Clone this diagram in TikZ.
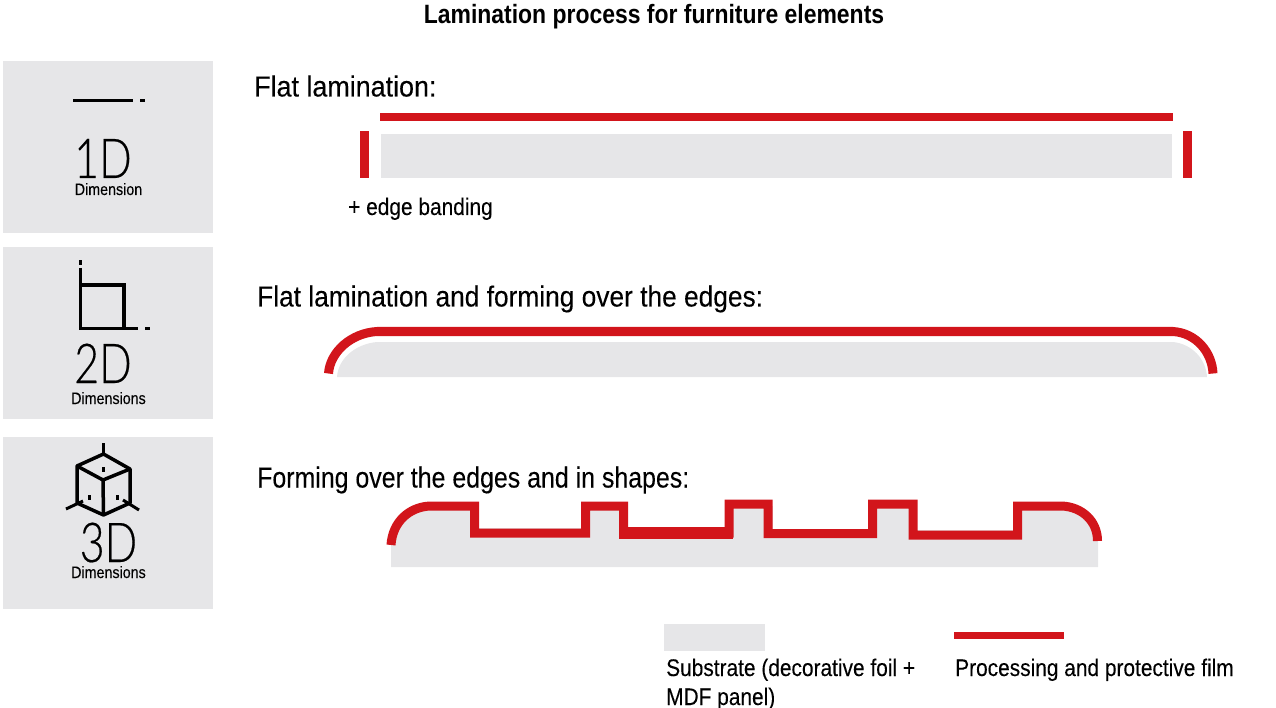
\documentclass[tikz,border=0pt]{standalone}
\usepackage{fontspec}
\setmainfont[FakeStretch=0.84]{Liberation Sans}
\newfontfamily\headfont[FakeStretch=0.907,FakeBold=0.12]{Liberation Sans}
\newfontfamily\headafont[FakeStretch=0.927,FakeBold=0.12]{Liberation Sans}
\newfontfamily\headcfont[FakeStretch=0.859,FakeBold=0.12]{Liberation Sans}
\newfontfamily\smallfont[FakeStretch=0.87,FakeBold=0.12]{Liberation Sans}
\newfontfamily\labelfont[FakeStretch=0.865,FakeBold=0.1]{Liberation Sans}
\newfontfamily\titlefont[FakeStretch=0.866]{Liberation Sans}
\newfontfamily\thinfont[FakeStretch=0.78,FakeBold=0.35]{Lato Light}
\definecolor{panelgray}{HTML}{E6E6E8}
\definecolor{filmred}{HTML}{D2151B}
\definecolor{inkblack}{HTML}{000000}
\tikzset{
  panel/.style={fill=panelgray,draw=none},
  substrate/.style={fill=panelgray,draw=none},
  filmbar/.style={fill=filmred,draw=none},
  filmline/.style={draw=filmred,line width=9pt,miter limit=10,line join=miter},
  icon/.style={draw=inkblack,line width=3pt},
  icondot/.style={fill=inkblack,draw=none},
  heading/.style={anchor=base west,inner sep=0pt,font=\headfont\fontsize{29}{29}\selectfont},
  small/.style={anchor=base west,inner sep=0pt,font=\smallfont\fontsize{24}{24}\selectfont},
  bigdim/.style={anchor=base,inner sep=0pt,font=\thinfont\fontsize{55}{55}\selectfont},
  dimlabel/.style={anchor=base,inner sep=0pt,font=\labelfont\fontsize{16.5}{16.5}\selectfont},
}
\begin{document}
\begin{tikzpicture}[x=1pt,y=-1pt]
\useasboundingbox (0,0) rectangle (1276,708);
\node[anchor=base,inner sep=0pt,font=\titlefont\bfseries\fontsize{26.5}{26.5}\selectfont] (title) at (654,24) {Lamination process for furniture elements};
% panels
\fill[panel] (3,61) rectangle (213,233);
\fill[panel] (3,247) rectangle (213,419);
\fill[panel] (3,437) rectangle (213,609);
% 1D icon
\draw[icon] (73,100.5) -- (133,100.5);
\fill[icondot] (140,99) rectangle (145,102);
\node[bigdim] (d1) at (103,178) {1D};
\node[dimlabel] (l1) at (108.5,195) {Dimension};
% 2D icon
\draw[icon] (80,268) -- (80,328.5) -- (138,328.5);
\draw[icon,line width=3.5pt] (80,285) -- (124,285) -- (124,328.5);
\fill[icondot] (78.5,260) rectangle (81.5,265);
\fill[icondot] (145,327) rectangle (150,330);
\node[bigdim] (d2) at (103,383) {2D};
\node[dimlabel] (l2) at (108.5,404) {Dimensions};
% 3D icon
\draw[icon] (103.5,443) -- (103.5,454);
\draw[icon,line width=3.5pt,line join=round] (103.5,454) -- (77,466) -- (77,503) -- (103.5,515) -- (130,503) -- (130,469) -- cycle;
\draw[icon,line width=3.5pt,line join=round] (77,466) -- (103,480) -- (130,469);
\draw[icon,line width=3.5pt] (103,480) -- (103.5,515);
\draw[icon] (66,509) -- (83,501);
\draw[icon] (123,500) -- (139,510);
\fill[icondot] (102,466.5) rectangle (105,471.5);
\fill[icondot] (88,495) rectangle (91,500);
\fill[icondot] (116,495) rectangle (119,500);
\node[bigdim] (d3) at (108.5,562) {3D};
\node[dimlabel] (l3) at (108.5,578) {Dimensions};
% Row 1
\node[heading,font=\headafont\fontsize{29}{29}\selectfont] (h1) at (254,96.5) {Flat lamination:};
\fill[filmbar] (380,113.5) rectangle (1173,121.5);
\fill[substrate] (381,134) rectangle (1172,178);
\fill[filmbar] (360,131) rectangle (369,178);
\fill[filmbar] (1183,131) rectangle (1192,178);
\node[small] (edge) at (348,215) {+ edge banding};
% Row 2
\node[heading] (h2) at (257,306.5) {Flat lamination and forming over the edges:};
\fill[substrate] (337,377) .. controls (338,359) and (355,344) .. (377,342) -- (1173,342) .. controls (1192,344) and (1206,359) .. (1207,377) -- cycle;
\draw[filmline] (328.5,373.5) .. controls (330,352) and (351,333) .. (377,331.5) -- (1173,331.5) .. controls (1196,333) and (1212,352) .. (1213,373.5);
% Row 3
\node[heading,font=\headcfont\fontsize{29}{29}\selectfont] (h3) at (257,487.5) {Forming over the edges and in shapes:};
\fill[substrate] (391,567) -- (391,540) .. controls (393,520) and (410,506) .. (430,506) -- (1062,506) .. controls (1082,506) and (1098,520) .. (1098,541) -- (1098,567) -- cycle;
\fill[white] (479,500) rectangle (581,528);
\fill[white] (628,500) rectangle (725,527);
\fill[white] (773,500) rectangle (868,529);
\fill[white] (917,500) rectangle (1013,530);
\draw[filmline] (391,545) .. controls (392.5,522) and (409,507) .. (430,506) -- (474.5,506) -- (474.5,533) -- (585.5,533) -- (585.5,506) -- (623.5,506) -- (623.5,533) -- (729,533) -- (729,504) -- (768,504) -- (768,533.5) -- (872.5,533.5) -- (872.5,504) -- (913,504) -- (913,535) -- (1017.5,535) -- (1017.5,506) -- (1062,506) .. controls (1082,507) and (1097.5,521) .. (1097.5,541);
\fill[filmbar] (619,527) rectangle (733,539);
% Legend
\fill[substrate] (664,624) rectangle (765,651);
\fill[filmbar] (954,632) rectangle (1064,639);
\node[small] (lg1) at (666,676) {Substrate (decorative foil +};
\node[small] (lg2) at (666,705) {MDF panel)};
\node[small] (lg3) at (955,676) {Processing and protective film};
\end{tikzpicture}
\end{document}
